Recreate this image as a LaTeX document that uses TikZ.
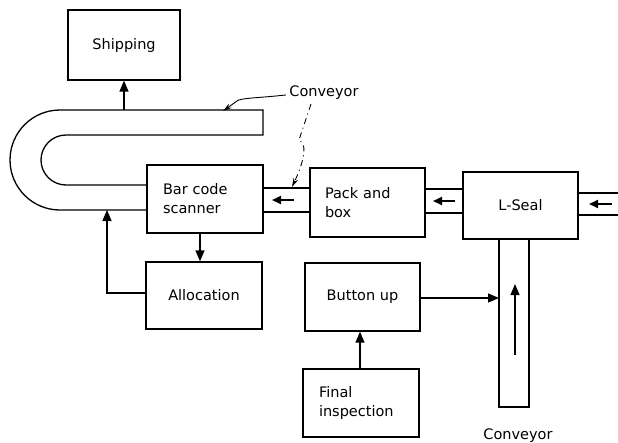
\documentclass[tikz,border=0pt]{standalone}
\usepackage{fontspec}
\setmainfont{DejaVu Sans}
\usetikzlibrary{arrows.meta}
\begin{document}
\begin{tikzpicture}[x=1pt,y=-1pt,
  line width=1.3pt,
  every node/.style={font=\fontsize{14.5}{19}\selectfont},
  box/.style={draw, line width=1.3pt, inner sep=0pt},
  flow/.style={-{Triangle[length=11pt,width=9pt]}},
  belt/.style={-{Triangle[length=9pt,width=8pt]}, line width=1.8pt},
  pointer/.style={-{Stealth[length=9pt,width=5pt]}, line width=0.9pt},
  lbl/.style={inner sep=0pt}]
\useasboundingbox (0,0) rectangle (618,442);
% boxes
\node[box, minimum width=112pt, minimum height=70pt] (ship) at (124,45) {Shipping};
\node[box, minimum width=116pt, minimum height=68pt, text width=84pt, align=left] (scan) at (205,199) {Bar code\\scanner};
\node[box, minimum width=115pt, minimum height=69pt, text width=85pt, align=left] (pack) at (367.5,202.5) {Pack and\\box};
\node[box, minimum width=115pt, minimum height=67pt] (seal) at (520.5,205.5) {L-Seal};
\node[box, minimum width=116pt, minimum height=67pt] (alloc) at (204,295.5) {Allocation};
\node[box, minimum width=115pt, minimum height=68pt] (button) at (362.5,297) {Button up};
\node[box, minimum width=116pt, minimum height=68pt, text width=84pt, align=left] (final) at (361,403) {Final\\inspection};
% U-shaped conveyor
\coordinate (uo1) at (263,110);
\coordinate (ui1) at (263,135);
\draw (scan.west |- 0,210) -- (60,210) arc[start angle=-90, end angle=-270, radius=50pt] -- (uo1) -- (ui1)
  -- (66,135) arc[start angle=90, end angle=270, radius=25pt] -- (scan.west |- 0,185);
% short conveyors
\draw (scan.east |- 0,188) -- (pack.west |- 0,188);
\draw (scan.east |- 0,212) -- (pack.west |- 0,212);
\draw (pack.east |- 0,189) -- (seal.west |- 0,189);
\draw (pack.east |- 0,213) -- (seal.west |- 0,213);
\coordinate (rt1) at (618,193);
\coordinate (rt2) at (618,215);
\draw (seal.east |- rt1) -- (rt1);
\draw (seal.east |- rt2) -- (rt2);
% vertical conveyor
\coordinate (vb1) at (499,407);
\coordinate (vb2) at (529,407);
\draw (seal.south -| vb1) -- (vb1) -- (vb2) -- (seal.south -| vb2);
% belt arrows
\coordinate (a1s) at (294,200); \coordinate (a1e) at (272,200);
\coordinate (a2s) at (455,201); \coordinate (a2e) at (433,201);
\coordinate (a3s) at (612,204); \coordinate (a3e) at (589,204);
\coordinate (a4s) at (515,355); \coordinate (a4e) at (515,284);
\draw[belt] (a1s) -- (a1e);
\draw[belt] (a2s) -- (a2e);
\draw[belt] (a3s) -- (a3e);
\draw[flow] (a4s) -- (a4e);
% flow arrows
\draw[flow] (ship.south |- uo1) -- (ship.south);
\draw[flow] (scan.south -| 200,0) -- (alloc.north -| 200,0);
\draw[flow] (alloc.west |- 0,293) -- (107,293) -- (107,210);
\draw[flow] (button.east |- 0,298) -- (vb1 |- 0,298);
\draw[flow] (final.north -| 360,0) -- (button.south -| 360,0);
% labels
\node[lbl] (conv1) at (324,93) {Conveyor};
\node[lbl] (conv2) at (518,436) {Conveyor};
\coordinate (p1) at (223,111);
\coordinate (p2) at (292,187);
\draw[pointer] (conv1.west) ++(-3,2) .. controls (258,98) and (240,98) .. (237,101) -- (p1);
\draw[pointer, dash pattern=on 6pt off 4pt on 1pt off 4pt] (311,104) -- (299,140) .. controls (310,145) and (300,170) .. (p2);
\end{tikzpicture}
\end{document}
